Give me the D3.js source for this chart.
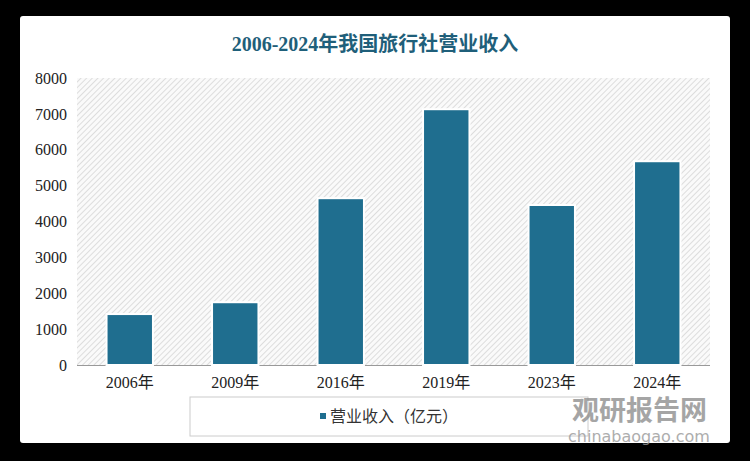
<!DOCTYPE html><html><head><meta charset="utf-8"><script src="https://cdn.jsdelivr.net/npm/d3@7"></script>
<style>body{margin:0;background:#000}svg{display:block}</style></head><body><svg width="750" height="461"></svg>
<script>
const categories=["2006年","2009年","2016年","2019年","2023年","2024年"];
const values=[1420,1750,4650,7130,4460,5680];
const yTicks=[0,1000,2000,3000,4000,5000,6000,7000,8000];
const title="2006-2024年我国旅行社营业收入";
const legendLabel="营业收入（亿元）";
const svg=d3.select("svg");
const font="'Liberation Serif','Noto Sans CJK SC',serif";
svg.append("rect").attr("width",750).attr("height",461).attr("fill","#000");
svg.append("rect").attr("x",20).attr("y",16).attr("width",710).attr("height",427).attr("rx",3).attr("fill","#fff");
const defs=svg.append("defs");
const p=defs.append("pattern").attr("id","h").attr("patternUnits","userSpaceOnUse").attr("width",4).attr("height",4).attr("patternTransform","rotate(45)");
p.append("rect").attr("width",4).attr("height",4).attr("fill","#fafafa");
p.append("line").attr("x1",0).attr("y1",0).attr("x2",0).attr("y2",4).attr("stroke","#d6d6d6").attr("stroke-width",1.6);
const x=d3.scaleBand().domain(categories).range([77,710]).paddingInner(0.56).paddingOuter(0.28);
const y=d3.scaleLinear().domain([0,8000]).range([365,78]);
svg.append("rect").attr("x",77).attr("y",78).attr("width",633).attr("height",287).attr("fill","url(#h)");
svg.append("text").attr("x",375).attr("y",51).attr("text-anchor","middle").attr("font-family",font).attr("font-weight","bold").attr("font-size",20).attr("fill","#1f5f7a").text(title);
const ya=svg.append("g").attr("transform","translate(77,0)").call(d3.axisLeft(y).tickValues(yTicks).tickFormat(d3.format("d")).tickSize(0).tickPadding(10));
ya.select(".domain").remove();
ya.selectAll("text").attr("font-family",font).attr("font-size",16).attr("fill","#222");
svg.append("line").attr("x1",77).attr("x2",710).attr("y1",365.5).attr("y2",365.5).attr("stroke","#999");
svg.selectAll(".b").data(values).join("rect").attr("x",(d,i)=>x(categories[i])).attr("width",x.bandwidth()).attr("y",d=>y(d)).attr("height",d=>365-y(d)).attr("fill","#1f6e8f").attr("stroke","#fff").attr("stroke-width",2);
const xa=svg.append("g").attr("transform","translate(0,365)").call(d3.axisBottom(x).tickSize(0).tickPadding(12));
xa.select(".domain").remove();
xa.selectAll("text").attr("font-family",font).attr("font-size",16).attr("fill","#222");
svg.append("rect").attr("x",190).attr("y",397).attr("width",398).attr("height",39).attr("fill","none").attr("stroke","#ccc");
svg.append("rect").attr("x",320).attr("y",413).attr("width",6).attr("height",6).attr("fill","#1f6e8f");
svg.append("text").attr("x",330).attr("y",422).attr("font-family",font).attr("font-size",16).attr("fill","#333").text(legendLabel);
svg.append("text").attr("x",572).attr("y",420).attr("font-family","'Noto Sans CJK SC'").attr("font-weight","bold").attr("font-size",27).attr("fill","#888").attr("opacity",0.75).text("观研报告网");
svg.append("text").attr("x",568).attr("y",442).attr("font-family","'DejaVu Sans'").attr("font-size",16).attr("fill","#999").attr("opacity",0.8).text("chinabaogao.com");
</script></body></html>
